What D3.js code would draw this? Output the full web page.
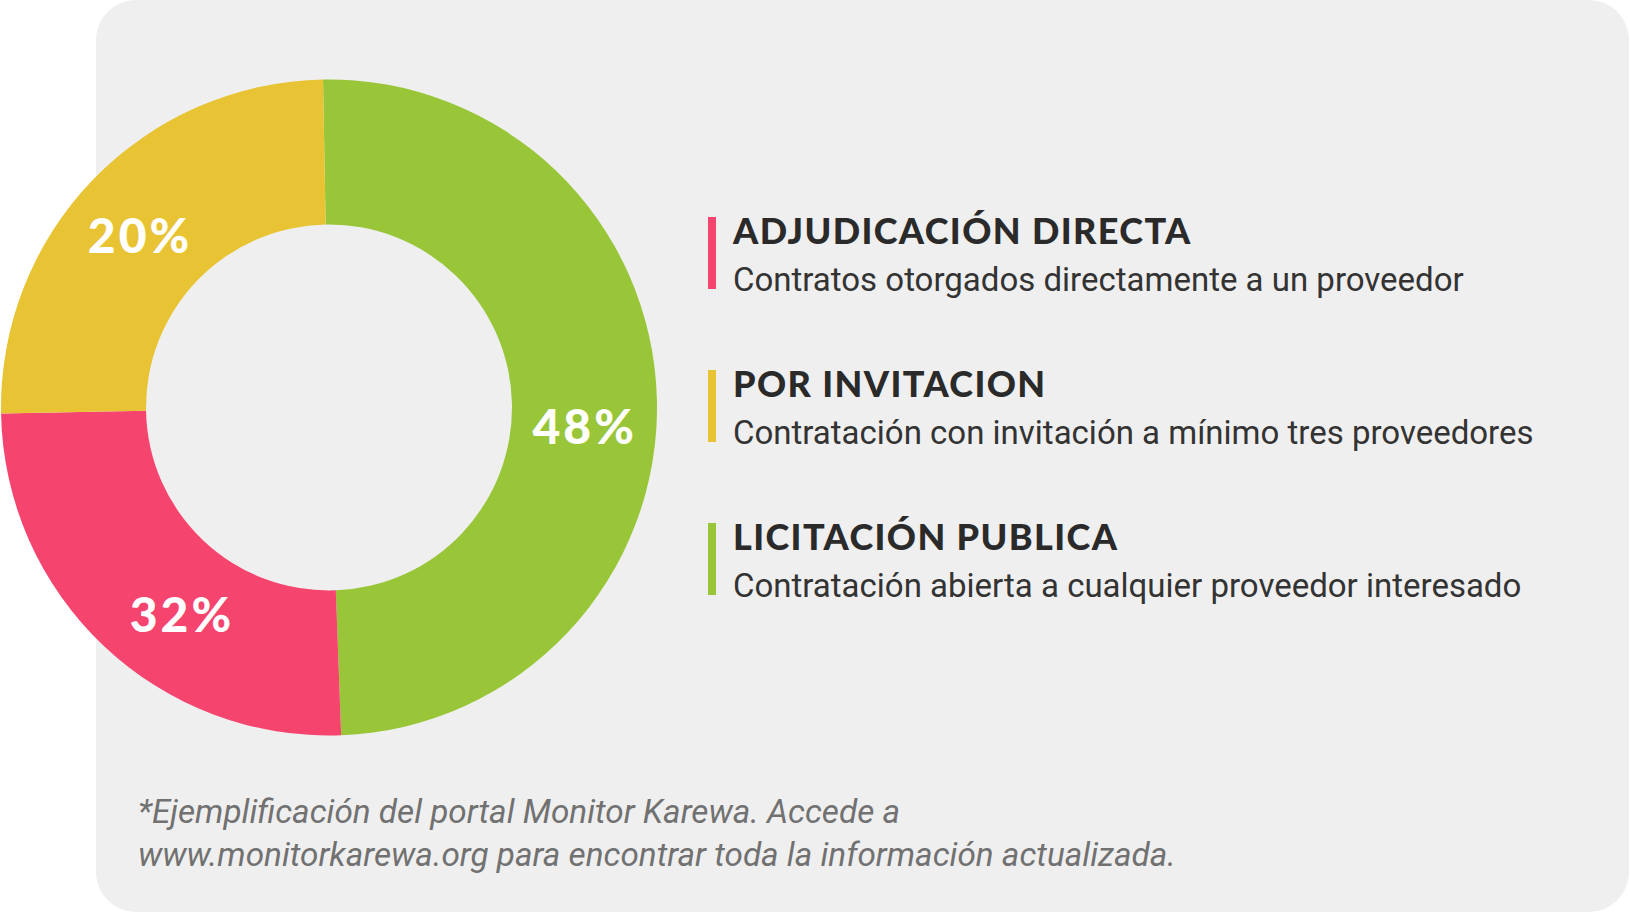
<!DOCTYPE html>
<html>
<head>
<meta charset="utf-8">
<script src="https://cdn.jsdelivr.net/npm/d3@7"></script>
<style>
  html, body { margin: 0; padding: 0; background: #ffffff; }
  svg { display: block; }
</style>
</head>
<body>
<div class="chart"></div>
<script>
// legend categories, in the order they are listed
let categories = ['ADJUDICACIÓN DIRECTA', 'POR INVITACION', 'LICITACIÓN PUBLICA']
let descriptions = [
  'Contratos otorgados directamente a un proveedor',
  'Contratación con invitación a mínimo tres proveedores',
  'Contratación abierta a cualquier proveedor interesado'
]
let colors = ['#f5446e', '#e8c434', '#98c638']
// share of the ring each slice takes, as drawn
let shares = [25.3, 25.0, 49.7]
// percentage printed on each slice
let pctLabels = ['32%', '20%', '48%']
// clockwise order of slices from 12 o'clock
let ringOrder = [2, 0, 1]
let footnote = [
  '*Ejemplificación del portal Monitor Karewa. Accede a',
  'www.monitorkarewa.org para encontrar toda la información actualizada.'
]

let w = 1630
let h = 913
let cx = 329, cy = 407.5
let rOuter = 328, rInner = 183
let start = -0.0183
// the percentages sit a little off the slice middle
let labelTurn = [-8, -2, 6.2]

let svg = d3.select('.chart').append('svg').attr('width', w).attr('height', h)

svg.append('rect')
  .attr('x', 96).attr('y', 0)
  .attr('width', 1533).attr('height', 912)
  .attr('rx', 40).attr('ry', 40)
  .attr('fill', '#efefef')

let pie = d3.pie().sort(null).value(i => shares[i])
  .startAngle(start).endAngle(start + 2 * Math.PI)
let arc = d3.arc().innerRadius(rInner).outerRadius(rOuter)

let ring = svg.append('g').attr('transform', 'translate(' + cx + ',' + cy + ')')
let arcs = pie(ringOrder)

ring.selectAll('path').data(arcs).enter().append('path')
  .attr('d', arc)
  .attr('fill', d => colors[d.data])

let labelPos = d => {
  let t = labelTurn[d.data] * Math.PI / 180
  return arc.centroid({ startAngle: d.startAngle + t, endAngle: d.endAngle + t })
}

ring.selectAll('.pct').data(arcs).enter().append('text')
  .attr('class', 'pct')
  .attr('x', d => labelPos(d)[0] + 1)
  .attr('y', d => labelPos(d)[1])
  .attr('dy', '0.34em')
  .attr('text-anchor', 'middle')
  .style('font-family', 'Lato, sans-serif')
  .style('font-weight', 900)
  .style('font-size', '48px')
  .style('letter-spacing', '3px')
  .style('fill', '#ffffff')
  .text(d => pctLabels[d.data])

// legend
let legend = svg.append('g')
let item = legend.selectAll('g').data(categories).enter().append('g')
  .attr('transform', (d, i) => 'translate(0,' + (i * 153) + ')')

item.append('rect')
  .attr('x', 708).attr('y', 217)
  .attr('width', 8).attr('height', 72)
  .attr('fill', (d, i) => colors[i])

item.append('text')
  .attr('x', 733).attr('y', 244)
  .style('font-family', 'Lato, sans-serif')
  .style('font-weight', 900)
  .style('font-size', '36px')
  .style('letter-spacing', '1.4px')
  .style('fill', '#2a2a2a')
  .text(d => d)

item.append('text')
  .attr('x', 733).attr('y', 291)
  .style('font-family', 'Roboto, sans-serif')
  .style('font-size', '33px')
  .style('fill', '#333333')
  .text((d, i) => descriptions[i])

svg.selectAll('.note').data(footnote).enter().append('text')
  .attr('class', 'note')
  .attr('x', 138)
  .attr('y', (d, i) => 823 + i * 43)
  .style('font-family', 'Roboto, sans-serif')
  .style('font-style', 'italic')
  .style('font-size', '33.3px')
  .style('fill', '#717171')
  .text(d => d)
</script>
</body>
</html>
